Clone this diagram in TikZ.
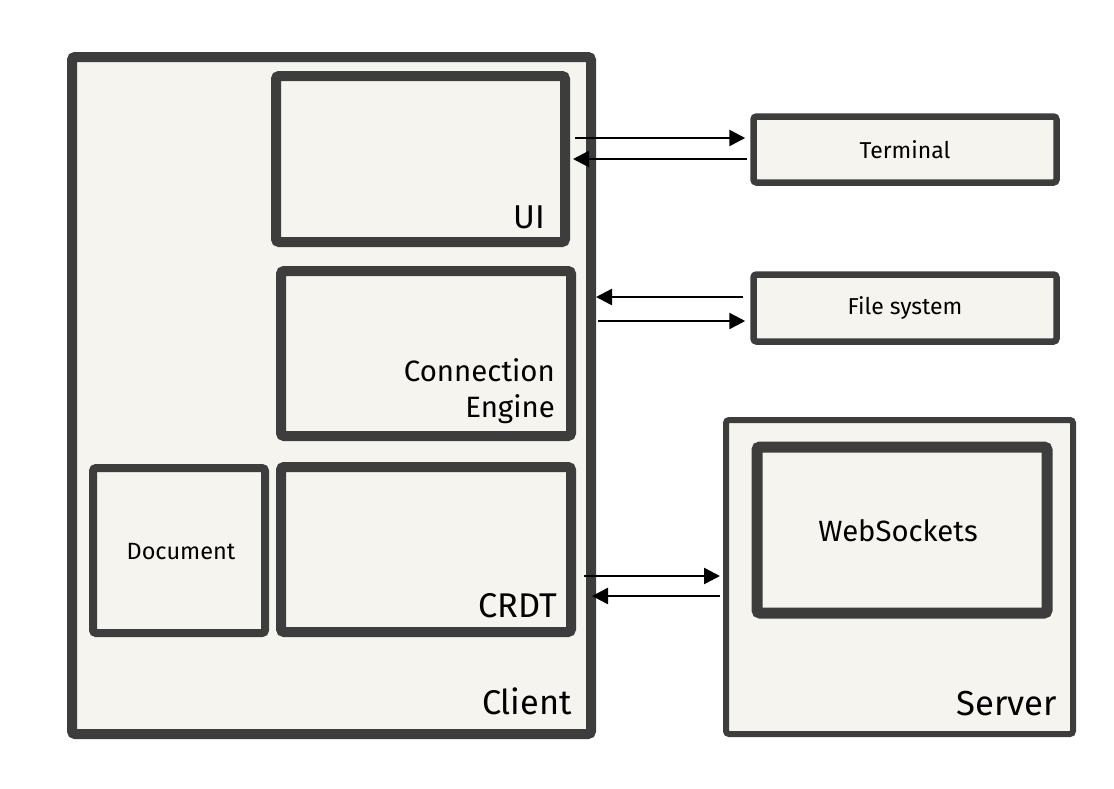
\documentclass[tikz,border=0pt]{standalone}
\usepackage{fontspec}
\setmainfont{Fira Sans}
\usetikzlibrary{arrows.meta}
\definecolor{boxfill}{HTML}{F5F4EF}
\definecolor{boxline}{HTML}{3D3D3D}
\begin{document}
\begin{tikzpicture}[x=1pt,y=-1pt,
  box/.style={rectangle,draw=boxline,fill=boxfill,inner sep=0pt,rounded corners=3pt},
  thick box/.style={box,line width=10pt},
  thin box/.style={box,line width=6.5pt},
  lbl/.style={inner sep=0pt,anchor=base east},
  arr/.style={line width=2.5pt,-{Triangle[length=16pt,width=16pt]}}]
\useasboundingbox (0,0) rectangle (1114,788);
% containers
\node[thick box,minimum width=519pt,minimum height=677pt] (client) at (331.5,395.5) {};
\node[box,line width=6pt,minimum width=347pt,minimum height=314pt] (server) at (899.5,577) {};
% inner boxes
\node[thick box,minimum width=289pt,minimum height=166pt] (ui) at (420.5,159) {};
\node[thick box,minimum width=290pt,minimum height=165pt] (ce) at (426,353.5) {};
\node[box,line width=8pt,minimum width=172pt,minimum height=165pt] (doc) at (179,550.5) {};
\node[inner sep=0pt,font=\fontsize{23.5}{26}\selectfont] (doclbl) at (181,552) {Document};
\node[thick box,minimum width=290pt,minimum height=165pt] (crdt) at (426,549.5) {};
\node[box,line width=11pt,minimum width=290pt,minimum height=166pt] (ws) at (902,530) {};
\node[inner sep=0pt,font=\fontsize{29.3}{34}\selectfont] (wslbl) at (898,531) {WebSockets};
\node[thin box,minimum width=303pt,minimum height=66pt,font=\fontsize{23}{26}\selectfont] (term) at (905,149.5) {Terminal};
\node[thin box,minimum width=303pt,minimum height=67pt,font=\fontsize{23}{26}\selectfont] (fs) at (905,308) {File system};
% labels
\node[lbl,font=\fontsize{33}{38}\selectfont] (uilbl) at (545,228) {UI};
\node[lbl,font=\fontsize{29.4}{36}\selectfont] (celbl) at (555,381) {Connection};
\node[lbl,font=\fontsize{29.4}{36}\selectfont] (celbl2) at (555,417) {Engine};
\node[lbl,font=\fontsize{34.3}{38}\selectfont] (crdtlbl) at (557,617) {CRDT};
\node[lbl,font=\fontsize{34.3}{38}\selectfont] (clientlbl) at (572,714) {Client};
\node[lbl,font=\fontsize{34.7}{38}\selectfont] (serverlbl) at (1057,715) {Server};
% arrows
\draw[arr,shorten <=5pt,shorten >=5pt] (ui.east |- 0,138) -- (term.west |- 0,138);
\draw[arr,shorten <=3pt,shorten >=0pt] (term.west |- 0,159) -- (573,159);
\coordinate (fsin) at (596,297);
\coordinate (fsout) at (598,321);
\draw[arr,shorten <=7pt] (fs.west |- 0,297) -- (fsin);
\draw[arr,shorten >=5pt] (fsout) -- (fs.west |- 0,321);
\coordinate (crdtout) at (584,576);
\coordinate (crdtin) at (592,596);
\draw[arr,shorten >=3pt] (crdtout) -- (server.west |- 0,576);
\draw[arr,shorten <=3pt] (server.west |- 0,596) -- (crdtin);
\end{tikzpicture}
\end{document}
